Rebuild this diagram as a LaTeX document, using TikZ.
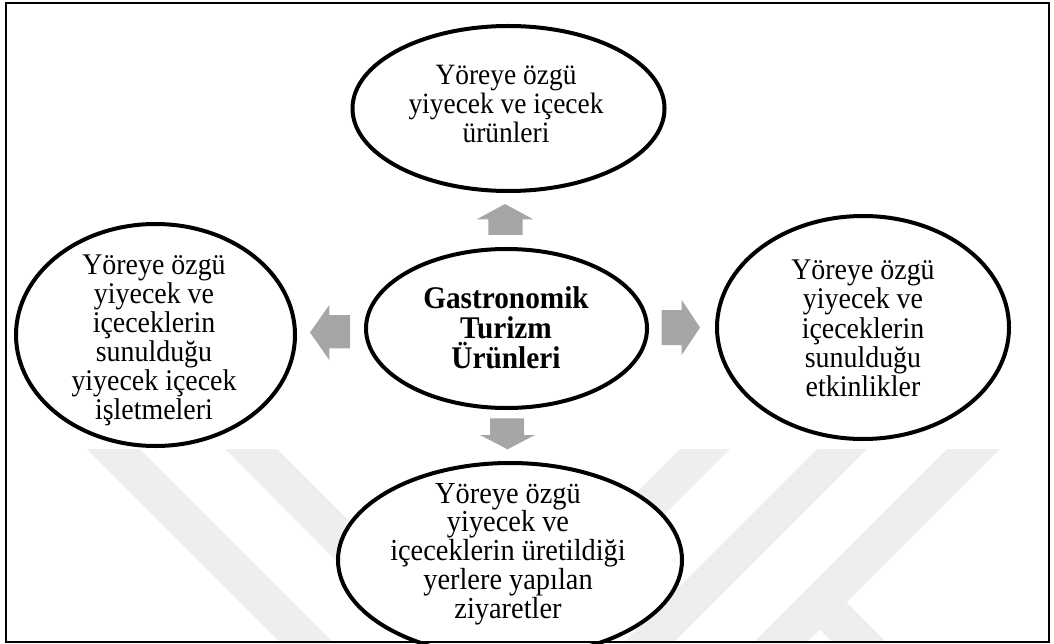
\documentclass[tikz,border=0pt]{standalone}
\usepackage{fontspec}
\setmainfont{Liberation Serif}[FakeStretch=0.93]
\usetikzlibrary{shapes.geometric}
\definecolor{arrowgray}{RGB}{166,166,166}
\definecolor{wmgray}{RGB}{238,238,238}
\tikzset{
  bubble/.style={ellipse, draw=black, line width=4pt, fill=white, inner sep=0pt},
  txt/.style={align=center, inner sep=0pt},
  blockarrow/.style={fill=arrowgray, draw=none},
  watermark/.style={fill=wmgray, draw=none},
  frame/.style={draw=black, line width=2pt}
}
\begin{document}
\begin{tikzpicture}[x=1pt,y=-1pt]
\useasboundingbox (0,0) rectangle (1054,644);
% watermark
\fill[watermark] (87,449) -- (140,449) -- (333,642) -- (280,642) -- cycle;
\fill[watermark] (225,449) -- (277,449) -- (470,642) -- (417,642) -- cycle;
\fill[watermark] (680,449) -- (730,449) -- (537,642) -- (487,642) -- cycle;
\fill[watermark] (817,449) -- (867,449) -- (674,642) -- (624,642) -- cycle;
\fill[watermark] (947,449) -- (1000,449) -- (807,642) -- (754,642) -- cycle;
\fill[watermark] (847,603) -- (886,642) -- (832,642) -- (817,627) -- cycle;
% ellipses
\node[bubble, minimum width=312pt, minimum height=165pt] (top) at (508.5,108.5) {};
\node[bubble, minimum width=281pt, minimum height=159pt] (center) at (506.5,328.5) {};
\node[bubble, minimum width=279pt, minimum height=222pt] (left) at (155.5,335) {};
\node[bubble, minimum width=292pt, minimum height=223pt] (right) at (863,327.5) {};
\node[bubble, minimum width=344pt, minimum height=194pt] (bottom) at (510,560) {};
% block arrows
\fill[blockarrow] (488.3,235) -- (488.3,219.3) -- (476.7,219.3) -- (505,204) -- (533.3,219.3) -- (522.7,219.3) -- (522.7,235) -- cycle;
\fill[blockarrow] (490,418.3) -- (524,418.3) -- (524,435) -- (535,435) -- (507.5,449.3) -- (480,435) -- (490,435) -- cycle;
\fill[blockarrow] (350,315) -- (350,348.3) -- (329.3,348.3) -- (329.3,360) -- (310,332.5) -- (329.3,305) -- (329.3,315) -- cycle;
\fill[blockarrow] (661.7,310) -- (681.7,310) -- (681.7,300) -- (700,327.5) -- (681.7,355) -- (681.7,345) -- (661.7,345) -- cycle;
% texts
\node[txt, font={\fontsize{29.5pt}{29pt}\selectfont}] (toptext) at (506,104) {Yöreye özgü\\yiyecek ve içecek\\ürünleri};
\node[txt, font={\fontsize{31.5pt}{30pt}\selectfont\bfseries}] (centertext) at (506,327.5) {Gastronomik\\Turizm\\Ürünleri};
\node[txt, font={\fontsize{30pt}{29pt}\selectfont}] (lefttext) at (154,340) {Yöreye özgü\\yiyecek ve\\içeceklerin\\sunulduğu\\yiyecek içecek\\işletmeleri};
\node[txt, font={\fontsize{30pt}{29.3pt}\selectfont}] (righttext) at (863,328.5) {Yöreye özgü\\yiyecek ve\\içeceklerin\\sunulduğu\\etkinlikler};
\node[txt, font={\fontsize{30.5pt}{28.7pt}\selectfont}] (bottomtext) at (508,554) {Yöreye özgü\\yiyecek ve\\içeceklerin üretildiği\\yerlere yapılan\\ziyaretler};
% frame
\draw[frame] (5.5,3) rectangle (1049,642);
\end{tikzpicture}
\end{document}
